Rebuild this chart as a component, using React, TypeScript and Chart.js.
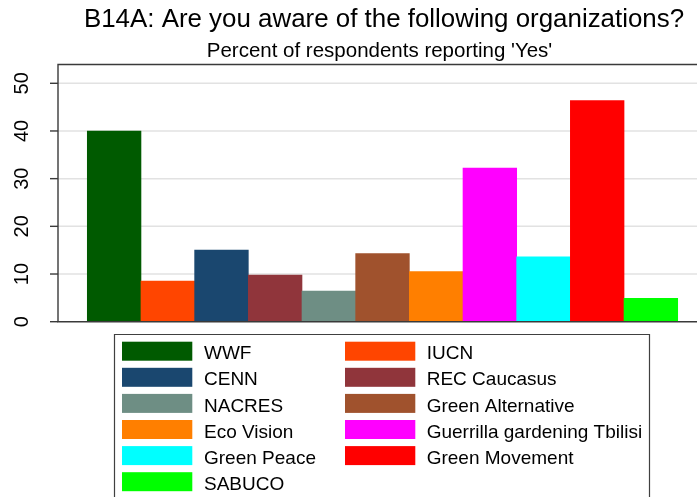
import React, { useEffect, useRef } from "react";
import { Chart, registerables } from "chart.js";

Chart.register(...registerables);

const titleText = "B14A: Are you aware of the following organizations?";
const subtitleText = "Percent of respondents reporting 'Yes'";
const organizations = [
  "WWF",
  "IUCN",
  "CENN",
  "REC Caucasus",
  "NACRES",
  "Green Alternative",
  "Eco Vision",
  "Guerrilla gardening Tbilisi",
  "Green Peace",
  "Green Movement",
  "SABUCO",
];
const percentYes = [40.0, 8.5, 15.0, 9.8, 6.4, 14.3, 10.5, 32.2, 13.6, 46.35, 4.9];
const barColors = [
  "#005a00",
  "#ff4500",
  "#1a476f",
  "#90353b",
  "#6e8e84",
  "#a0522d",
  "#ff7f00",
  "#ff00ff",
  "#00ffff",
  "#ff0000",
  "#00ff00",
];
const yTickValues = [0, 10, 20, 30, 40, 50];

const FONT = '"Liberation Sans", Arial, Helvetica, sans-serif';

const decorPlugin = {
  id: "stataDecor",
  beforeDatasetsDraw(chart: any) {
    const { ctx, chartArea } = chart;
    const y = chart.scales.y;
    ctx.save();
    ctx.strokeStyle = "#e2e2e2";
    ctx.lineWidth = 1.5;
    for (const v of yTickValues) {
      if (v === 0) continue;
      const py = y.getPixelForValue(v);
      ctx.beginPath();
      ctx.moveTo(chartArea.left, py);
      ctx.lineTo(chartArea.right, py);
      ctx.stroke();
    }
    ctx.restore();
  },
  afterDatasetsDraw(chart: any) {
    const { ctx, chartArea } = chart;
    const y = chart.scales.y;
    ctx.save();
    ctx.strokeStyle = "#3a3a3a";
    ctx.lineWidth = 1.4;
    ctx.beginPath();
    ctx.moveTo(chartArea.right + 2, chartArea.top);
    ctx.lineTo(chartArea.left, chartArea.top);
    ctx.lineTo(chartArea.left, chartArea.bottom);
    ctx.lineTo(chartArea.right + 2, chartArea.bottom);
    ctx.stroke();
    ctx.fillStyle = "#000";
    ctx.font = `20px ${FONT}`;
    ctx.textAlign = "center";
    ctx.textBaseline = "alphabetic";
    for (const v of yTickValues) {
      const py = y.getPixelForValue(v);
      ctx.beginPath();
      ctx.moveTo(chartArea.left - 8, py);
      ctx.lineTo(chartArea.left, py);
      ctx.stroke();
      ctx.save();
      ctx.translate(27.5, py);
      ctx.rotate(-Math.PI / 2);
      ctx.fillText(String(v), 0, 0);
      ctx.restore();
    }
    ctx.textAlign = "center";
    ctx.font = `25.9px ${FONT}`;
    ctx.fillText(titleText, 384, 27.3);
    ctx.font = `20.5px ${FONT}`;
    ctx.fillText(subtitleText, 379.5, 56.8);

    const boxL = 114.5;
    const boxT = 334.5;
    const boxR = 649.5;
    ctx.lineWidth = 1.2;
    ctx.strokeStyle = "#404040";
    ctx.beginPath();
    ctx.moveTo(boxL, 505);
    ctx.lineTo(boxL, boxT);
    ctx.lineTo(boxR, boxT);
    ctx.lineTo(boxR, 505);
    ctx.stroke();
    const colSwatchX = [122, 345];
    const colTextX = [204, 426.7];
    const swW = 70.3;
    const swH = 19;
    const rowTop = 341.7;
    const pitch = 26.1;
    ctx.font = `19px ${FONT}`;
    ctx.textAlign = "left";
    organizations.forEach((name, i) => {
      const col = i % 2;
      const row = Math.floor(i / 2);
      const top = rowTop + row * pitch;
      ctx.fillStyle = barColors[i];
      ctx.fillRect(colSwatchX[col], top, swW, swH);
      ctx.fillStyle = "#000";
      ctx.fillText(name, colTextX[col], top + 17.6);
    });
    ctx.restore();
  },
};

export default function App() {
  const canvasRef = useRef<HTMLCanvasElement | null>(null);

  useEffect(() => {
    if (!canvasRef.current) return;
    const unit = 590.4 / 11;
    const plotW = 639;
    const xMin = -0.5 - (87.3 - 58) / unit;
    const xMax = xMin + plotW / unit;
    const chart = new Chart(canvasRef.current, {
      type: "bar",
      data: {
        datasets: [
          {
            label: "Percent Yes",
            data: percentYes.map((v, i) => ({ x: i, y: v })),
            backgroundColor: barColors,
            borderWidth: 0,
            barPercentage: 1,
            categoryPercentage: 1,
          },
        ],
      },
      options: {
        animation: false,
        responsive: true,
        maintainAspectRatio: false,
        layout: { padding: { top: 64.5, bottom: 497 - 321.7, left: 0, right: 0 } },
        plugins: {
          legend: { display: false },
          title: { display: false },
          tooltip: { enabled: false },
        },
        scales: {
          x: {
            type: "linear",
            min: xMin,
            max: xMax,
            offset: false,
            grid: { offset: false },
            display: false,
          },
          y: {
            min: 0,
            max: 53.94,
            afterBuildTicks: (s: any) => {
              s.ticks = yTickValues.map((v) => ({ value: v }));
            },
            afterFit: (s: any) => {
              s.width = 58;
            },
            ticks: { display: false },
            grid: { display: false },
            border: { display: false },
          },
        },
      },
      plugins: [decorPlugin],
    });
    return () => chart.destroy();
  }, []);

  return (
    <div
      style={{
        position: "absolute",
        left: 0,
        top: 0,
        width: 697,
        height: 497,
        background: "#fff",
      }}
    >
      <canvas ref={canvasRef} />
    </div>
  );
}
